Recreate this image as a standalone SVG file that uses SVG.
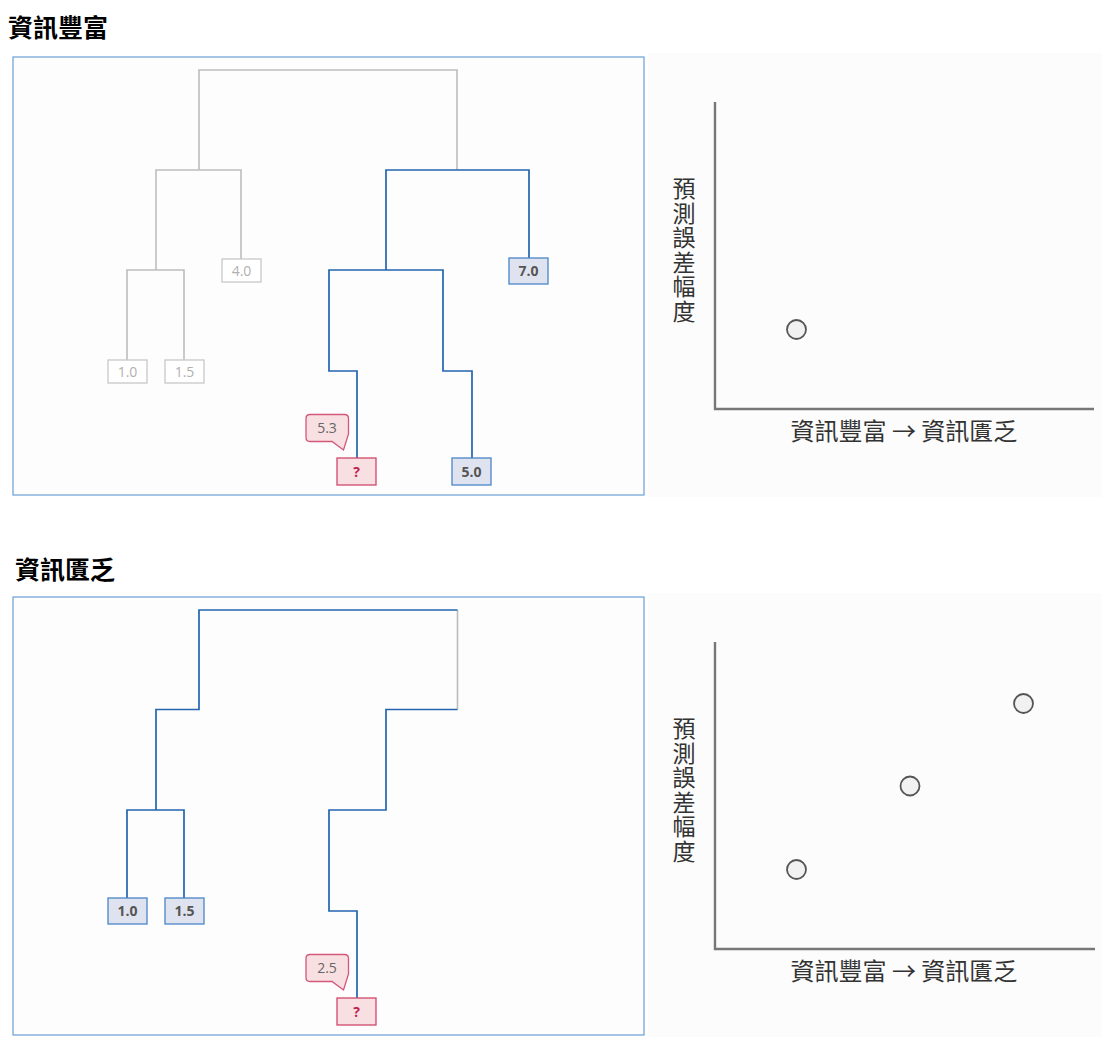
<svg xmlns="http://www.w3.org/2000/svg" width="1102" height="1040" viewBox="0 0 1102 1040">
<defs>
<style>
.title{font-family:"Noto Sans CJK TC","Noto Sans CJK SC",sans-serif;font-size:25px;font-weight:bold;fill:#000}
.panel{fill:#fdfdfd;stroke:#6a9fd6;stroke-width:1.2}
.chartbg{fill:#fcfcfc}
.g{fill:none;stroke:#bdbdbd;stroke-width:1.6}
.b{fill:none;stroke:#2464b0;stroke-width:1.7}
.gbox{fill:#ffffff;stroke:#c8c8c8;stroke-width:1.3}
.gtxt{font-family:"Open Sans","Noto Sans",sans-serif;font-size:14px;fill:#b0b0b0;text-anchor:middle}
.bbox{fill:#dfe3ef;stroke:#4a86c8;stroke-width:1.3}
.btxt{font-family:"Open Sans","Noto Sans",sans-serif;font-size:14px;font-weight:bold;fill:#555;text-anchor:middle}
.qbox{fill:#f8e0e2;stroke:#d2486c;stroke-width:1.3}
.qtxt{font-family:"Open Sans","Noto Sans",sans-serif;font-size:14px;font-weight:bold;fill:#c2214f;text-anchor:middle}
.bub{fill:#f8e0e2;stroke:#d2577a;stroke-width:1.3}
.bubtxt{font-family:"Open Sans","Noto Sans",sans-serif;font-size:14px;fill:#666;text-anchor:middle}
.axis{fill:none;stroke:#777;stroke-width:2.4}
.dot{fill:#f1f1f1;stroke:#555;stroke-width:1.8}
.lab{font-family:"Noto Sans CJK TC","Noto Sans CJK SC",sans-serif;font-size:24px;fill:#333}
.vlab{font-family:"Noto Sans CJK TC","Noto Sans CJK SC",sans-serif;font-size:23px;fill:#333;writing-mode:vertical-rl;text-orientation:upright;letter-spacing:1.5px}
</style>
</defs>
<rect width="1102" height="1040" fill="#ffffff"/>

<!-- Top section -->
<text id="title-rich" class="title" x="8" y="37">資訊豐富</text>
<rect id="panel-rich" class="panel" x="13" y="57" width="631" height="438"/>

<g id="connectors-rich">
<path class="g" d="M199,170 V70 H457 V170"/>
<path class="g" d="M156,270 V170 H241 V260"/>
<path class="g" d="M127,361 V270 H184 V361"/>
<path class="b" d="M386,270 V170 H529 V258"/>
<path class="b" d="M357,458 V371 H329 V270 H443 V371 H472 V458"/>
</g>

<g id="leaf-1-0-rich"><rect class="gbox" x="108" y="360" width="39" height="23"/><text class="gtxt" x="127.5" y="377">1.0</text></g>
<g id="leaf-1-5-rich"><rect class="gbox" x="165" y="360" width="39" height="23"/><text class="gtxt" x="184.5" y="377">1.5</text></g>
<g id="leaf-4-0-rich"><rect class="gbox" x="222" y="259" width="39" height="23"/><text class="gtxt" x="241.5" y="276">4.0</text></g>
<g id="leaf-7-0-rich"><rect class="bbox" x="509" y="258" width="39" height="26"/><text class="btxt" x="528.5" y="276">7.0</text></g>
<g id="leaf-5-0-rich"><rect class="bbox" x="452" y="458" width="39" height="27"/><text class="btxt" x="471.5" y="476.5">5.0</text></g>
<g id="query-rich"><rect class="qbox" x="337" y="458" width="39" height="27"/><text class="qtxt" x="356.5" y="476.5">?</text></g>
<g id="bubble-rich"><path class="bub" d="M310,414.5 H344.5 Q348.5,414.5 348.5,418.5 V434 L343.5,450 L332,441.5 H310 Q306,441.5 306,437.5 V418.5 Q306,414.5 310,414.5 Z"/><text class="bubtxt" x="327" y="433">5.3</text></g>

<g id="chart-rich">
<rect class="chartbg" x="648" y="53" width="454" height="444"/>
<path class="axis" d="M715,102 V409 H1094"/>
<circle id="pt-rich-1" class="dot" cx="796.5" cy="329.5" r="9.5"/>
<text class="vlab" x="684" y="177">預測誤差幅度</text>
<text class="lab" x="904" y="440" text-anchor="middle">資訊豐富 → 資訊匱乏</text>
</g>

<!-- Bottom section -->
<text id="title-poor" class="title" x="15" y="579">資訊匱乏</text>
<rect id="panel-poor" class="panel" x="13" y="597" width="631" height="438"/>

<g id="connectors-poor">
<path class="g" d="M457.5,610 V709.5"/>
<path class="b" d="M156,810 V709.5 H199 V610 H457.5"/>
<path class="b" d="M127,898 V810 H184 V898"/>
<path class="b" d="M357,998 V911 H329 V810 H386 V709.5 H457.5"/>
</g>

<g id="leaf-1-0-poor"><rect class="bbox" x="108" y="898" width="39" height="26"/><text class="btxt" x="127.5" y="916">1.0</text></g>
<g id="leaf-1-5-poor"><rect class="bbox" x="165" y="898" width="39" height="26"/><text class="btxt" x="184.5" y="916">1.5</text></g>
<g id="query-poor"><rect class="qbox" x="337" y="998" width="39" height="27"/><text class="qtxt" x="356.5" y="1016.5">?</text></g>
<g id="bubble-poor"><path class="bub" d="M310,954.5 H344.5 Q348.5,954.5 348.5,958.5 V974 L343.5,990 L332,981.5 H310 Q306,981.5 306,977.5 V958.5 Q306,954.5 310,954.5 Z"/><text class="bubtxt" x="327" y="973">2.5</text></g>

<g id="chart-poor">
<rect class="chartbg" x="648" y="593" width="454" height="444"/>
<path class="axis" d="M715,642 V949 H1095"/>
<circle id="pt-poor-1" class="dot" cx="796.5" cy="869.5" r="9.5"/>
<circle id="pt-poor-2" class="dot" cx="910" cy="786" r="9.5"/>
<circle id="pt-poor-3" class="dot" cx="1023.5" cy="703.5" r="9.5"/>
<text class="vlab" x="684" y="717">預測誤差幅度</text>
<text class="lab" x="904" y="980" text-anchor="middle">資訊豐富 → 資訊匱乏</text>
</g>
</svg>
